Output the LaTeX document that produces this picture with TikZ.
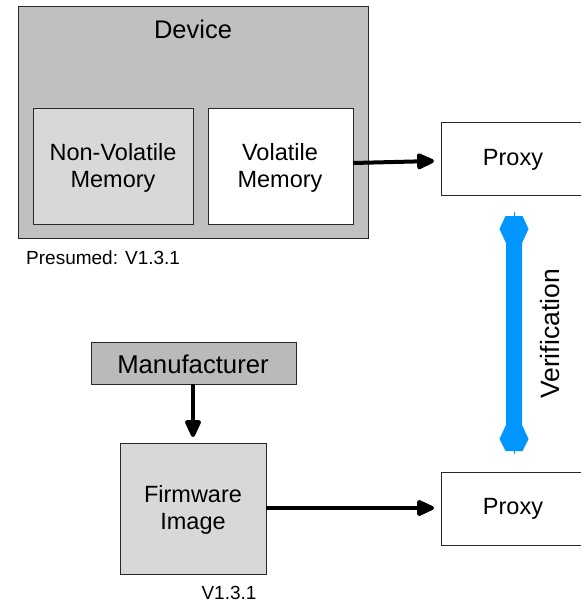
\documentclass[tikz,border=0pt]{standalone}
\usepackage{fontspec}
\setmainfont{Liberation Sans}
\usetikzlibrary{arrows.meta}
\definecolor{devgray}{RGB}{192,192,192}
\definecolor{lightgray2}{RGB}{216,216,216}
\definecolor{mangray}{RGB}{186,186,186}
\definecolor{vblue}{RGB}{0,150,255}
\definecolor{edge}{RGB}{40,40,40}
\tikzset{
  box/.style={draw=edge, line width=1pt, inner sep=0pt, anchor=north west},
  lbl/.style={font=\fontsize{23.5}{27}\selectfont, align=center, inner sep=0pt},
  small/.style={font=\fontsize{19}{22}\selectfont, inner sep=0pt},
  conn/.style={line width=4pt, -{Triangle[length=20pt,width=17pt,round]}},
}
\begin{document}
\begin{tikzpicture}[x=1pt,y=-1pt]
\useasboundingbox (0,0) rectangle (581,603);
% Device
\node[box, fill=devgray, minimum width=350pt, minimum height=232pt] (device) at (18,6) {};
\node[lbl, font=\fontsize{25.5}{29}\selectfont] (devlbl) at (193,29) {Device};
\node[box, fill=lightgray2, minimum width=160pt, minimum height=116pt] (nvm) at (33,108) {};
\node[lbl] (nvmlbl) at (113,168) {Non-Volatile\\Memory};
\node[box, fill=white, minimum width=145pt, minimum height=116pt] (vm) at (208,108) {};
\node[lbl] (vmlbl) at (280,168) {Volatile\\Memory};
\node[small, anchor=west] (pres) at (26,258) {Presumed: V1.3.1};
% Proxies
\node[box, fill=white, minimum width=160pt, minimum height=73pt] (proxy1) at (441,122) {};
\node[lbl] (p1lbl) at (513,160) {Proxy};
\node[box, fill=white, minimum width=160pt, minimum height=73pt] (proxy2) at (441,472) {};
\node[lbl] (p2lbl) at (513,509) {Proxy};
% Manufacturer
\node[box, fill=mangray, minimum width=205pt, minimum height=42pt] (man) at (91,342) {};
\node[lbl, font=\fontsize{25.7}{29}\selectfont] (manlbl) at (193,364) {Manufacturer};
\node[box, fill=lightgray2, minimum width=146pt, minimum height=131pt] (fw) at (120,443) {};
\node[lbl] (fwlbl) at (193,510) {Firmware\\Image};
\node[small] (ver) at (229,593) {V1.3.1};
% arrows
\coordinate (a1s) at (353,163);
\coordinate (a1e) at (434,161);
\draw[conn] (a1s) -- (a1e);
\coordinate (a2s) at (193,384);
\coordinate (a2e) at (193,437);
\draw[conn] (a2s) -- (a2e);
\coordinate (a3s) at (266,508);
\coordinate (a3e) at (434,508);
\draw[conn] (a3s) -- (a3e);
% verification
\coordinate (vt) at (514,212);
\coordinate (vb) at (514,454);
\draw[vblue, line width=0.8pt] (vt) -- (vb);
\fill[vblue] (505.5,216) -- (522.5,216) -- (528.5,229) -- (522,243) -- (522,425) -- (528.5,439) -- (522.5,451) -- (505.5,451) -- (499.5,439) -- (506,425) -- (506,243) -- (499.5,229) -- cycle;
\node[lbl, rotate=90, font=\fontsize{26.5}{30}\selectfont] (verif) at (550,334) {Verification};
\end{tikzpicture}
\end{document}
